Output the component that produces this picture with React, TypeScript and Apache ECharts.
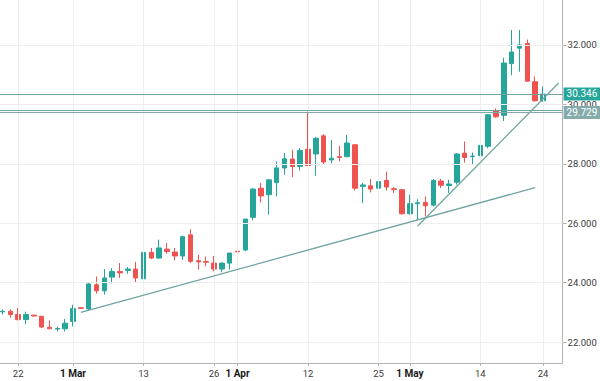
import React, { useEffect, useRef } from 'react';
import * as echarts from 'echarts';

// OHLC values (one entry per daily candle)
const opens = [
  23.02, 23.04, 22.93, 22.76, 22.91, 22.87, 22.5, 22.44, 22.45, 22.7,
  23.16, 23.12, 23.93, 23.73, 24.19, 24.38, 24.41, 24.46, 24.13, 25.02,
  24.83, 25.13, 25.03, 24.9, 25.61, 24.74, 24.71, 24.66, 24.46, 24.66,
  25.06, 25.1, 26.2, 27.18, 26.96, 27.37, 27.86, 28.16, 27.91, 28.49,
  28.33, 28.94, 28.13, 28.24, 28.24, 28.64, 27.24, 27.26, 27.18, 27.44,
  27.16, 27.13, 26.32, 26.66, 26.7, 26.61, 27.42, 27.27, 27.38, 28.36,
  28.24, 28.27, 28.59, 29.78, 29.63, 31.37, 31.89, 32.05, 30.76, 30.12,
];
const closes = [
  23.04, 22.93, 22.76, 22.93, 22.88, 22.51, 22.45, 22.46, 22.64, 23.13,
  23.14, 23.96, 23.73, 24.16, 24.38, 24.33, 24.46, 24.16, 25.02, 24.83,
  25.17, 25.05, 24.9, 25.55, 24.72, 24.7, 24.69, 24.46, 24.66, 25.0,
  25.04, 26.14, 27.15, 26.92, 27.46, 27.86, 28.17, 27.91, 28.45, 27.94,
  28.86, 28.06, 28.19, 28.21, 28.7, 27.18, 27.29, 27.15, 27.4, 27.22,
  27.14, 26.32, 26.66, 26.69, 26.59, 27.44, 27.28, 27.32, 28.33, 28.21,
  28.26, 28.62, 29.65, 29.58, 31.39, 31.76, 32.0, 30.78, 30.12, 30.346,
];
const lows = [
  22.93, 22.82, 22.73, 22.6, 22.87, 22.48, 22.44, 22.36, 22.36, 22.53,
  23.12, 23.07, 23.63, 23.6, 23.98, 24.16, 24.3, 24.02, 24.1, 24.8,
  24.8, 24.97, 24.75, 24.77, 24.66, 24.44, 24.55, 24.38, 24.35, 24.44,
  24.72, 25.06, 26.1, 26.7, 26.29, 26.9, 27.63, 27.55, 27.77, 27.92,
  27.6, 27.97, 28.02, 28.08, 28.22, 27.1, 26.68, 27.04, 27.02, 27.1,
  27.02, 26.29, 26.29, 26.1, 26.23, 26.57, 27.18, 27.02, 27.3, 28.04,
  27.97, 28.22, 28.52, 29.55, 29.44, 30.98, 31.1, 30.78, 30.09, 30.09,
];
const highs = [
  23.1, 23.1, 23.15, 23.03, 22.92, 22.88, 22.73, 22.53, 22.78, 23.26,
  23.18, 23.99, 24.21, 24.46, 24.49, 24.66, 24.53, 24.7, 25.04, 25.17,
  25.45, 25.33, 25.17, 25.58, 25.8, 24.94, 24.88, 24.9, 24.68, 25.0,
  25.54, 26.15, 27.18, 27.35, 27.49, 28.08, 28.36, 28.47, 28.53, 29.76,
  28.9, 29.0, 28.8, 28.6, 28.97, 28.66, 27.35, 27.49, 27.49, 27.74,
  27.22, 27.15, 26.96, 26.81, 26.9, 27.49, 27.49, 27.46, 28.36, 28.75,
  28.38, 28.72, 29.68, 29.86, 31.57, 32.5, 32.5, 32.18, 30.94, 30.6,
];

// x-axis tick labels and the candle index each belongs to
const tickIndex = [2, 9, 18, 27, 30, 39, 48, 52, 61, 69];
const tickLabels = ['22', '1 Mar', '13', '26', '1 Apr', '12', '25', '1 May', '14', '24'];
const monthLabels = ['1 Mar', '1 Apr', '1 May'];
const emptySlotsRight = 2;

// price axis
const priceTicks = [22, 24, 26, 28, 30, 32];
const priceMin = 21.3;
const priceMax = 33.51;

// horizontal price lines
const lastPrice = 30.346;
const levelPrice = 29.729;
const levelPrice2 = 29.79;

// trend lines: [candle index, price]
const trendLong = [[10, 23.0], [68, 27.2]];
const trendSteep = [[53, 25.91], [71, 30.72]];

const UP = '#26a69a';
const DOWN = '#ef5350';
const LINE = '#6fa3a0';
const GRID = '#eeeeee';
const AXIS = '#b5b5b5';
const TEXT = '#3b3b3b';
const FONT = 'Roboto, "Noto Sans", sans-serif';

export default function App() {
  const ref = useRef<HTMLDivElement>(null);

  useEffect(() => {
    if (!ref.current) return;
    const chart = echarts.init(ref.current, undefined, { renderer: 'svg' });

    const total = opens.length + emptySlotsRight;
    const categories = Array.from({ length: total }, (_, i) => String(i));
    const candles = opens.map((o, i) => [o, closes[i], lows[i], highs[i]]);

    const labelFor = (i: number) => {
      const k = tickIndex.indexOf(i);
      return k >= 0 ? tickLabels[k] : '';
    };

    const priceLabel = (bg: string, text: string) => ({
      show: true,
      position: 'end',
      distance: 1,
      formatter: () => text,
      backgroundColor: bg,
      color: '#ffffff',
      fontSize: 10,
      fontFamily: FONT,
      padding: [2, 3, 1, 3],
    });

    const option: any = {
      animation: false,
      textStyle: { fontFamily: FONT },
      grid: {
        left: -1.4,
        right: 37.4,
        top: 0,
        bottom: 18,
        containLabel: false,
        outerBoundsMode: 'none',
      },
      xAxis: {
        type: 'category',
        data: categories,
        boundaryGap: true,
        axisLine: { show: true, lineStyle: { color: AXIS, width: 1 } },
        axisTick: {
          show: true,
          alignWithLabel: true,
          length: 3,
          lineStyle: { color: AXIS },
          interval: (i: number) => tickIndex.includes(i),
        },
        axisLabel: {
          interval: (i: number) => tickIndex.includes(i),
          formatter: (_v: string, i: number) => {
            const t = labelFor(i);
            return monthLabels.includes(t) ? `{b|${t}}` : t;
          },
          color: TEXT,
          fontSize: 9.5,
          margin: 5,
          fontFamily: FONT,
          rich: {
            b: { fontWeight: 'bold', fontSize: 10, color: '#1a1a1a', fontFamily: FONT },
          },
        },
        splitLine: { show: false },
      },
      yAxis: {
        type: 'value',
        position: 'right',
        min: priceMin,
        max: priceMax,
        scale: true,
        axisLine: { show: true, lineStyle: { color: AXIS, width: 1 } },
        axisTick: { show: true, length: 4, lineStyle: { color: AXIS } },
        splitLine: { show: false },
        axisLabel: {
          showMinLabel: false,
          showMaxLabel: false,
          color: TEXT,
          fontSize: 9.5,
          margin: 5,
          fontFamily: FONT,
          formatter: (v: number) => (priceTicks.includes(Math.round(v * 1000) / 1000) ? v.toFixed(3) : ''),
        },
      },
      series: [
        {
          type: 'line',
          data: [],
          z: 0,
          silent: true,
          markLine: {
            silent: true,
            symbol: ['none', 'none'],
            label: { show: false },
            lineStyle: { color: GRID, width: 1, type: 'solid' },
            data: [
              ...priceTicks.map((p) => ({ yAxis: p })),
              ...tickIndex.map((i) => ({ xAxis: i })),
            ],
          },
        },
        {
          type: 'candlestick',
          data: candles,
          z: 2,
          barWidth: 5,
          itemStyle: {
            color: UP,
            color0: DOWN,
            borderColor: UP,
            borderColor0: DOWN,
            borderWidth: 1,
          },
          markLine: {
            silent: true,
            symbol: ['none', 'none'],
            lineStyle: { color: LINE, width: 1.3, type: 'solid' },
            label: { show: false },
            data: [
              [
                { coord: trendLong[0] },
                { coord: trendLong[1] },
              ],
              [
                { coord: trendSteep[0] },
                { coord: trendSteep[1] },
              ],
              {
                yAxis: levelPrice2,
                lineStyle: { color: LINE, width: 1 },
                label: { show: false },
              },
              {
                yAxis: levelPrice,
                lineStyle: { color: '#83a9a8', width: 1.2 },
                label: priceLabel('#84abaa', levelPrice.toFixed(3)),
              },
              {
                yAxis: lastPrice,
                lineStyle: { color: LINE, width: 1 },
                label: priceLabel(UP, lastPrice.toFixed(3)),
              },
            ],
          },
        },
      ],
    };

    chart.setOption(option);
    return () => chart.dispose();
  }, []);

  return (
    <div
      ref={ref}
      style={{ position: 'fixed', left: 0, top: 0, width: 600, height: 381, background: '#ffffff' }}
    />
  );
}
